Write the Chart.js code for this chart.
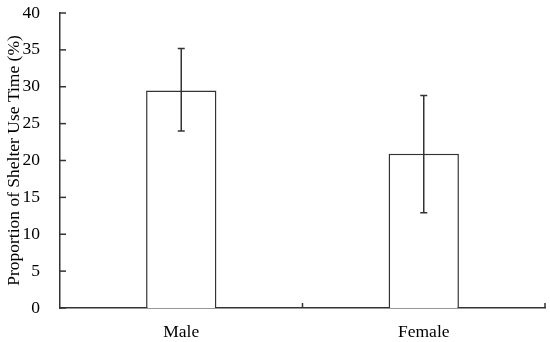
<!DOCTYPE html>
<html>
<head>
<meta charset="utf-8">
<script src="https://cdn.jsdelivr.net/npm/chart.js@4/dist/chart.umd.min.js"></script>
<style>
  html, body { margin: 0; padding: 0; background: #fff; }
  #box { width: 550px; height: 342px; }
</style>
</head>
<body>
<div id="box"><canvas id="grafico"></canvas></div>
<script>
const categorias = ["Male", "Female"];
const medias = [29.5, 20.9];
const errorBajo = [24.0, 12.9];
const errorAlto = [35.2, 28.8];
const ticksY = [0, 5, 10, 15, 20, 25, 30, 35, 40];

const colorLinea = "#333";

// barras de error y marcas de los ejes hacia dentro
const extras = {
    id: "extras",
    afterDatasetsDraw(chart) {
        const ctx = chart.ctx;
        const x = chart.scales.x;
        const y = chart.scales.y;
        const meta = chart.getDatasetMeta(0);
        ctx.save();
        ctx.strokeStyle = colorLinea;
        ctx.lineWidth = 1.5;
        meta.data.forEach((bar, i) => {
            const px = bar.x;
            const y1 = y.getPixelForValue(errorBajo[i]);
            const y2 = y.getPixelForValue(errorAlto[i]);
            ctx.beginPath();
            ctx.moveTo(px, y1); ctx.lineTo(px, y2);
            ctx.moveTo(px - 3.5, y1); ctx.lineTo(px + 3.5, y1);
            ctx.moveTo(px - 3.5, y2); ctx.lineTo(px + 3.5, y2);
            ctx.stroke();
        });
        // ticks del eje y
        y.ticks.forEach(t => {
            const py = y.getPixelForValue(t.value);
            ctx.beginPath();
            ctx.moveTo(x.left, py); ctx.lineTo(x.left + 6, py);
            ctx.stroke();
        });
        // ticks del eje x en los limites de categoria
        for (let i = 1; i <= categorias.length; i++) {
            const px = (x.getPixelForValue(i - 1) + x.getPixelForValue(i)) / 2;
            const borde = i === categorias.length ? x.right : px;
            ctx.beginPath();
            ctx.moveTo(borde, y.bottom); ctx.lineTo(borde, y.bottom - 5);
            ctx.stroke();
        }
        ctx.restore();
    }
};

Chart.defaults.font.family = "'Liberation Serif', 'Times New Roman', serif";
Chart.defaults.color = "#000";

new Chart(document.getElementById("grafico"), {
    type: "bar",
    data: {
        labels: categorias,
        datasets: [{
            data: medias,
            backgroundColor: "#fff",
            borderColor: colorLinea,
            borderWidth: 1.5,
            categoryPercentage: 1,
            barPercentage: 0.29
        }]
    },
    options: {
        responsive: true,
        maintainAspectRatio: false,
        animation: false,
        layout: { padding: { top: 13, right: 5, left: 4, bottom: 0 } },
        plugins: { legend: { display: false }, tooltip: { enabled: false } },
        scales: {
            x: {
                grid: { display: false },
                border: { color: colorLinea, width: 1.5 },
                ticks: { font: { size: 17.5 }, padding: 6 },
                afterFit: s => { s.height = 34; }
            },
            y: {
                min: 0,
                max: 40,
                afterBuildTicks: s => { s.ticks = ticksY.map(v => ({ value: v })); },
                grid: { display: false },
                border: { color: colorLinea, width: 1.5 },
                ticks: { font: { size: 17.5 }, padding: 12 },
                title: {
                    display: true,
                    text: "Proportion of Shelter Use Time (%)",
                    font: { size: 17.5 },
                    padding: { top: 0, bottom: 0 }
                },
                afterFit: s => {
                    s.width = 56;
                    s.paddingTop = 0;
                    s.paddingBottom = 0;
                }
            }
        }
    },
    plugins: [extras]
});
</script>
</body>
</html>
